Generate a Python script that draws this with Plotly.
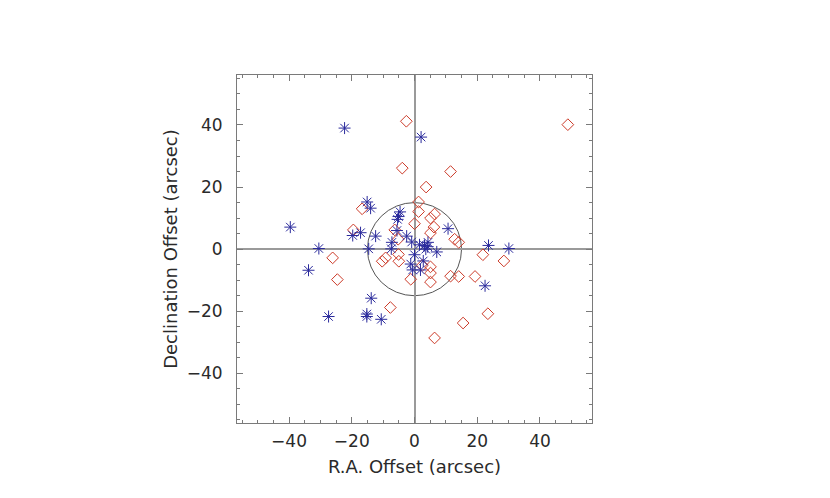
import plotly.graph_objects as go

# Blue asterisk sources (R.A. offset, Dec offset) in arcsec
blue_x = [-22.3, 2.1, -39.6, -30.5, -33.8, -27.4, -15.2, -15.2, -10.6, -13.8,
          -15.1, -14.0, -19.7, -17.2, -12.4, -4.6, -5.1, -5.4, -5.6, -2.5,
          -7.2, -0.9, -14.6, -7.4, 10.7, 23.6, 30.1, 22.5, 1.6, 3.2,
          4.2, 3.6, 4.3, 7.1, 0.0, 2.8, -1.2, -0.6, 1.9]
blue_y = [39.0, 36.1, 7.1, 0.2, -6.8, -21.7, -20.9, -21.7, -22.6, -15.8,
          15.2, 13.2, 4.4, 5.3, 4.2, 12.0, 10.5, 9.6, 6.0, 4.2,
          2.2, 2.3, 0.1, 0.1, 6.6, 1.2, 0.2, -11.8, 1.4, 1.2,
          0.8, 0.0, 2.2, -0.9, -1.8, -3.8, -4.8, -6.7, -6.7]

# Red diamond sources
red_x = [48.9, -2.6, -3.9, 11.5, 3.7, 1.3, 1.3, -16.7, -19.5, 6.4,
         5.1, 0.0, 6.2, 5.1, -6.3, -5.2, 12.8, 14.1, -5.1, -5.0,
         -9.2, -10.3, -26.1, -24.6, -1.2, -7.7, 2.5, 5.1, 5.1, 5.1,
         11.5, 14.1, 19.3, 21.8, 28.5, 23.4, 15.5, 6.4]
red_y = [40.1, 41.2, 26.1, 25.0, 20.0, 15.2, 12.1, 13.0, 6.2, 11.3,
         10.0, 8.2, 7.1, 5.2, 6.2, 3.2, 3.2, 2.2, -1.7, -3.9,
         -2.8, -3.9, -2.8, -9.8, -9.7, -18.8, -5.2, -5.7, -7.7, -10.6,
         -8.7, -8.8, -8.8, -1.8, -3.8, -20.8, -23.8, -28.6]

circle_radius = 15
x_range = [-56.6, 56.6]
y_range = [-56.0, 56.1]
tick_vals = [-40, -20, 0, 20, 40]
tick_text = ["\u221240", "\u221220", "0", "20", "40"]

axis_color = "#7a7a7a"
font_family = "DejaVu Sans"
text_color = "#2a2a2a"

fig = go.Figure()
fig.add_shape(type="circle", xref="x", yref="y",
              x0=-circle_radius, y0=-circle_radius, x1=circle_radius, y1=circle_radius,
              line=dict(color="#555555", width=1), layer="below")
fig.add_trace(go.Scatter(x=red_x, y=red_y, mode="markers",
                         marker=dict(symbol="diamond-open", size=9, color="#cc3a28",
                                     line=dict(width=1, color="#cc3a28")),
                         showlegend=False))
fig.add_trace(go.Scatter(x=blue_x, y=blue_y, mode="markers",
                         marker=dict(symbol="asterisk-open", size=10, color="#2a2a9c",
                                     line=dict(width=1, color="#2a2a9c")),
                         showlegend=False))

common = dict(
    showgrid=False, zeroline=True, zerolinecolor="#9a9a9a", zerolinewidth=1.5,
    showline=True, linecolor=axis_color, linewidth=1, mirror="ticks",
    ticks="inside", ticklen=6, tickcolor=axis_color, tickwidth=1,
    tickvals=tick_vals, ticktext=tick_text,
    minor=dict(dtick=5, tick0=0, ticks="inside", ticklen=3, tickcolor=axis_color, showgrid=False),
    tickfont=dict(family=font_family, size=17, color=text_color),
    fixedrange=True,
)
fig.update_xaxes(range=x_range, title=dict(text="R.A. Offset (arcsec)",
                 font=dict(family=font_family, size=18, color=text_color), standoff=9),
                 ticklabelstandoff=3, **common)
fig.update_yaxes(range=y_range, title=dict(text="Declination Offset (arcsec)",
                 font=dict(family=font_family, size=18, color=text_color), standoff=4),
                 ticklabelstandoff=10, **common)
fig.update_layout(width=830, height=498, margin=dict(l=229, r=246, t=67, b=83),
                  plot_bgcolor="white", paper_bgcolor="white")
fig.write_html("out.html")
